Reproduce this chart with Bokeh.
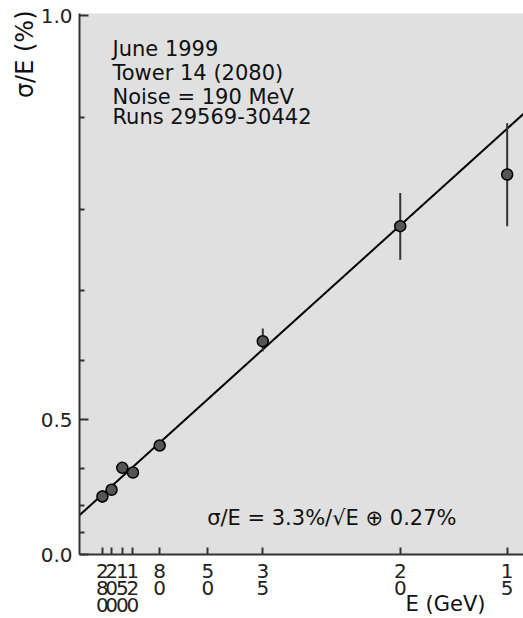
import numpy as np
from bokeh.plotting import figure
from bokeh.models import Range1d, FixedTicker, CustomJSTickFormatter, Label, ColumnDataSource, Title
from bokeh.embed import file_html
from bokeh.resources import INLINE

# ---- data ----
energy_ticks = [280, 200, 150, 120, 80, 50, 35, 20, 15]          # GeV, x tick labels
energies = [280, 200, 150, 120, 80, 35, 20, 15]                  # GeV, measured points
sigma_over_e = [0.328, 0.3465, 0.401, 0.390, 0.4497, 0.629, 0.7805, 0.8396]   # %
err_low = [0.310, 0.3465, 0.401, 0.390, 0.4497, 0.614, 0.7394, 0.7805]
err_high = [0.346, 0.3465, 0.401, 0.390, 0.4497, 0.6475, 0.819, 0.8945]
y_major = [0.0, 0.5, 1.0]
y_minor = [0.2, 0.3, 0.4, 0.6, 0.7, 0.8, 0.9]
fit_stochastic = 3.28   # % sqrt(GeV)
fit_constant = 0.27     # %
info_lines = ["June 1999", "Tower 14 (2080)", "Noise = 190 MeV", "Runs 29569-30442"]
fit_text = "σ/E = 3.3%/√E  ⊕ 0.27%"

FONT = "DejaVu Sans"

# x = 1/E, y = (sigma/E)^2
src = ColumnDataSource(dict(
    x=[1.0 / e for e in energies],
    y=[v ** 2 for v in sigma_over_e],
    ylo=[v ** 2 for v in err_low],
    yhi=[v ** 2 for v in err_high],
))

x_end = 444 / 6415.0
y_end = 541 / 539.0

p = figure(frame_width=444, frame_height=541,
           min_border_left=79, min_border_right=0, min_border_top=13, min_border_bottom=64,
           x_range=Range1d(0, x_end), y_range=Range1d(0, y_end),
           output_backend="svg", toolbar_location=None)
p.background_fill_color = "#e0e0e0"
p.border_fill_color = "white"
p.outline_line_color = None
p.xgrid.grid_line_color = None
p.ygrid.grid_line_color = None

# fit line
fx = np.array([0.0, x_end])
fy = fit_stochastic ** 2 * fx + fit_constant ** 2
p.line(fx, fy, line_color="black", line_width=2)

# error bars and points
p.segment(x0="x", y0="ylo", x1="x", y1="yhi", source=src, line_color="#333333", line_width=2)
p.scatter(x="x", y="y", source=src, size=11, fill_color="#555555",
          line_color="black", line_width=1.5)

# axes
xa = p.xaxis[0]
xa.ticker = FixedTicker(ticks=[1.0 / e for e in energy_ticks], minor_ticks=[])
xa.formatter = CustomJSTickFormatter(code="const e = Math.round(1/tick); return String(e).split('').join('\\n');")
xa.major_tick_in = 7
xa.major_tick_out = 0
xa.major_tick_line_width = 2
xa.major_tick_line_color = "#333333"
xa.axis_line_width = 2
xa.axis_line_color = "#333333"
xa.major_label_text_font = FONT
xa.major_label_text_font_size = "20px"
xa.major_label_text_color = "#222222"
xa.major_label_text_line_height = 0.71
xa.major_label_standoff = 4

ya = p.yaxis[0]
ya.ticker = FixedTicker(ticks=[v ** 2 for v in y_major], minor_ticks=[v ** 2 for v in y_minor])
ya.formatter = CustomJSTickFormatter(code="return Math.sqrt(tick).toFixed(1);")
ya.major_tick_in = 9
ya.major_tick_out = 0
ya.minor_tick_in = 5
ya.minor_tick_out = 0
ya.major_tick_line_width = 2
ya.minor_tick_line_width = 2
ya.major_tick_line_color = "#333333"
ya.minor_tick_line_color = "#333333"
ya.axis_line_width = 2
ya.axis_line_color = "#333333"
ya.major_label_text_font = FONT
ya.major_label_text_font_size = "20px"
ya.major_label_text_color = "#222222"
ya.major_label_standoff = 7

# axis titles placed as side titles
p.add_layout(Title(text="σ/E (%)", align="right", offset=-3, standoff=-2,
                   text_font=FONT, text_font_size="24px", text_font_style="normal",
                   text_color="#111111"), "left")
p.add_layout(Title(text="E (GeV)", align="right", offset=38, standoff=-56, vertical_align="top",
                   text_font=FONT, text_font_size="21px", text_font_style="normal",
                   text_color="#111111"), "below")

# texts inside the frame
info_y = [0.9378, 0.8924, 0.8497, 0.8108]
for t, yy in zip(info_lines, info_y):
    p.add_layout(Label(x=0.00514, y=yy, text=t, text_font=FONT, text_font_size="21px",
                       text_color="#111111", text_baseline="alphabetic"))

p.add_layout(Label(x=0.0199, y=0.0668, text=fit_text, text_font=FONT, text_font_size="21px",
                   text_color="#111111", text_baseline="middle"))

open("out.html", "w").write(file_html(p, INLINE))
